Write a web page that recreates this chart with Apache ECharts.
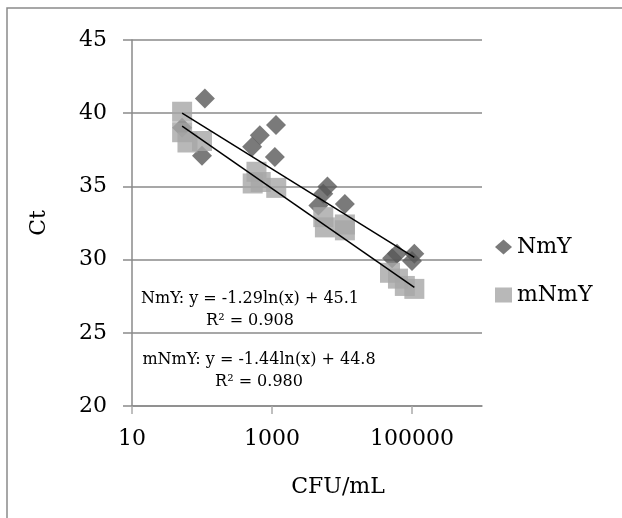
<!DOCTYPE html>
<html>
<head>
<meta charset="utf-8">
<script src="https://cdn.jsdelivr.net/npm/echarts@6/dist/echarts.min.js"></script>
<style>
  html, body { margin: 0; padding: 0; background: #fff; }
  #chart-container { width: 622px; height: 518px; }
</style>
</head>
<body>
<div id="chart-container"></div>
<script>
// CFU/mL vs Ct
const nmyCfu = [52, 110, 100, 1140, 670, 520, 1100, 6200, 5400, 11000, 4600, 61000, 108000, 52000, 100000];
const nmyCt = [39.0, 41.0, 37.1, 39.2, 38.5, 37.7, 37.0, 35.0, 34.5, 33.8, 33.7, 30.4, 30.4, 30.1, 29.9];
const mnmyCfu = [52, 52, 62, 100, 600, 530, 690, 1150, 5400, 5700, 11000, 11000, 48500, 63000, 79000, 108000];
const mnmyCt = [40.1, 38.7, 38.0, 38.1, 36.0, 35.2, 35.3, 34.9, 32.9, 32.2, 32.4, 32.0, 29.1, 28.7, 28.2, 28.0];

// trendline coefficients as printed: y = a*ln(x) + b
const nmyFit = { a: -1.29, b: 45.1, r2: "0.908" };
const mnmyFit = { a: -1.44, b: 44.8, r2: "0.980" };

const xTickValues = [10, 1000, 100000];

(() => {
  var dom = document.getElementById("chart-container");
  // @ts-ignore
  var chart = echarts.init(dom, null, { renderer: "canvas" });

  const font = "DejaVu Serif";
  const grey = "#8a8a8a";
  const pairs = (xs, ys) => xs.map((x, i) => [x, ys[i]]);
  const fitLine = (xs, fit) => {
    const lo = Math.min(...xs), hi = Math.max(...xs);
    return [lo, hi].map((x) => [x, fit.a * Math.log(x) + fit.b]);
  };

  const option = {
    animation: false,
    textStyle: { fontFamily: font, color: "#000" },
    grid: { left: 132, top: 40, right: 140, bottom: 112 },
    legend: {
      orient: "vertical",
      left: 490,
      top: 231,
      itemWidth: 17,
      itemHeight: 15,
      itemGap: 26,
      textStyle: { fontFamily: font, fontSize: 22, color: "#000", lineHeight: 22 },
      data: [
        { name: "NmY", icon: "diamond" },
        { name: "mNmY", icon: "rect" },
      ],
    },
    xAxis: {
      type: "log",
      logBase: 10,
      min: 10,
      max: 1000000,
      name: "CFU/mL",
      nameLocation: "middle",
      nameGap: 70,
      nameTextStyle: { fontFamily: font, fontSize: 22, color: "#000", padding: [0, 0, 0, 62] },
      splitLine: { show: false },
      axisLine: { lineStyle: { color: grey, width: 1.5 } },
      axisTick: { customValues: xTickValues, length: 8, lineStyle: { color: "#aaa", width: 1.5 } },
      axisLabel: {
        customValues: xTickValues,
        margin: 22,
        fontFamily: font,
        fontSize: 22,
        color: "#000",
        formatter: (v) => String(Math.round(v)),
      },
    },
    yAxis: {
      type: "value",
      min: 20,
      max: 45,
      interval: 5,
      name: "Ct",
      nameLocation: "middle",
      nameGap: 82,
      nameTextStyle: { fontFamily: font, fontSize: 22, color: "#000" },
      axisLine: { show: true, lineStyle: { color: grey, width: 1.5 } },
      axisTick: { show: true, length: 9, lineStyle: { color: grey, width: 1.5 } },
      splitLine: { lineStyle: { color: grey, width: 1.5 } },
      axisLabel: { margin: 25, fontFamily: font, fontSize: 22, color: "#000" },
    },
    graphic: [
      {
        type: "rect",
        shape: { x: 7, y: 8, width: 700, height: 600 },
        style: { fill: "none", stroke: grey, lineWidth: 1.5 },
        silent: true,
      },
      {
        type: "text",
        x: 250,
        y: 288,
        style: {
          text: "NmY: y = -1.29ln(x) + 45.1\nR² = " + nmyFit.r2,
          font: "16px " + font,
          fill: "#000",
          align: "center",
          lineHeight: 22,
        },
        z: 100,
      },
      {
        type: "text",
        x: 259,
        y: 349,
        style: {
          text: "mNmY: y = -1.44ln(x) + 44.8\nR² = " + mnmyFit.r2,
          font: "16px " + font,
          fill: "#000",
          align: "center",
          lineHeight: 22,
        },
        z: 100,
      },
    ],
    series: [
      {
        name: "NmY",
        type: "scatter",
        symbol: "diamond",
        symbolSize: 20,
        itemStyle: { color: "#595959" },
        data: pairs(nmyCfu, nmyCt),
        z: 2,
      },
      {
        name: "mNmY",
        type: "scatter",
        symbol: "rect",
        symbolSize: 20,
        itemStyle: { color: "#a6a6a6" },
        data: pairs(mnmyCfu, mnmyCt),
        z: 3,
      },
      {
        name: "NmY fit",
        type: "line",
        showSymbol: false,
        lineStyle: { color: "#000", width: 1.5 },
        data: fitLine(nmyCfu, nmyFit),
        z: 4,
      },
      {
        name: "mNmY fit",
        type: "line",
        showSymbol: false,
        lineStyle: { color: "#000", width: 1.5 },
        data: fitLine(mnmyCfu, mnmyFit),
        z: 4,
      },
    ],
  };
  chart.setOption(option);
  window.addEventListener("resize", chart.resize);
})();
</script>
</body>
</html>
